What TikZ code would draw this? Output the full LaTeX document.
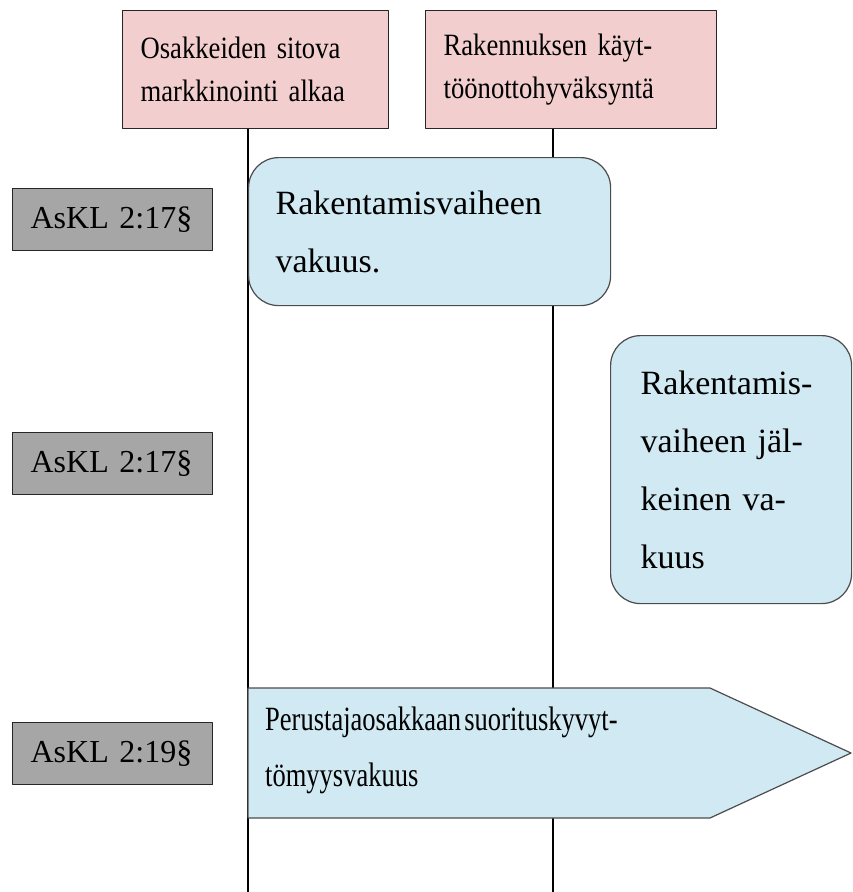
\documentclass[tikz,border=0pt]{standalone}
\usepackage{fontspec}
\setmainfont[WordSpace=0.5]{Liberation Serif}
\begin{document}
\begin{tikzpicture}[x=1pt, y=-1pt, line join=round,
	eventbox/.style={draw=black!85, fill=red!15!white!95!black, line width=1.2pt,
		anchor=north west, inner ysep=0pt, inner xsep=18pt, align=left,
		font=\addfontfeatures{FakeStretch=0.86}\fontsize{31}{43}\selectfont},
	lawbox/.style={draw=black!85, fill=black!35, line width=1.2pt,
		anchor=north west, minimum height=62pt, inner xsep=18pt, text width=164pt,
		align=left, font=\fontsize{32}{36}\selectfont},
	phasebox/.style={draw=black!70, fill=cyan!15!white!95!black, line width=1.2pt,
		rounded corners=30pt, anchor=north west, inner ysep=0pt, align=left,
		font=\fontsize{34}{58}\selectfont},
	lane/.style={black, line width=1.1pt}]
	% Fix the page to the size of the original
	\useasboundingbox (0,0) rectangle (852,892);

	% Events at the top of the time line
	\node[eventbox, text width=230pt, minimum height=118pt] (sales) at (122,10)
		{Osakkeiden sitova\\markkinointi alkaa};
	\node[eventbox, text width=255pt, minimum height=118pt] (permit) at (425,10)
		{Rakennuksen käyt-\\töönottohyväksyntä};

	% Time lines (drawn below the boxes)
	\coordinate (lane1) at (248,892);
	\coordinate (lane2) at (553,892);
	\draw[lane] (sales.south -| lane1) -- (lane1);
	\draw[lane] (permit.south -| lane2) -- (lane2);

	% Sections of the law
	\node[lawbox] (law1) at (12,188) {AsKL 2:17§};
	\node[lawbox] (law2) at (12,432) {AsKL 2:17§};
	\node[lawbox] (law3) at (12,722) {AsKL 2:19§};

	% Securities
	\node[phasebox, minimum width=362pt, minimum height=148pt, inner xsep=27pt,
		text width=308pt] (build) at (248,157) {Rakentamisvaiheen\\vakuus.};
	\node[phasebox, minimum width=241pt, minimum height=268pt, inner xsep=30pt,
		text width=181pt] (after) at (610,335)
		{Rakentamis-\\vaiheen jäl-\\keinen va-\\kuus};

	% Pointed box running to the right edge
	\coordinate (tip) at (851,753);
	\draw[draw=black!70, fill=cyan!15!white!95!black, line width=1.2pt]
		(248,688) -- (710,688) -- (tip) -- (710,818) -- (248,818) -- cycle;
	\node[anchor=west, align=left, inner sep=0pt,
		font=\addfontfeatures{FakeStretch=0.78}\fontsize{34}{56}\selectfont]
		(founder) at (265,750) {Perustajaosakkaan suorituskyvyt-\\tömyysvakuus};
\end{tikzpicture}
\end{document}
